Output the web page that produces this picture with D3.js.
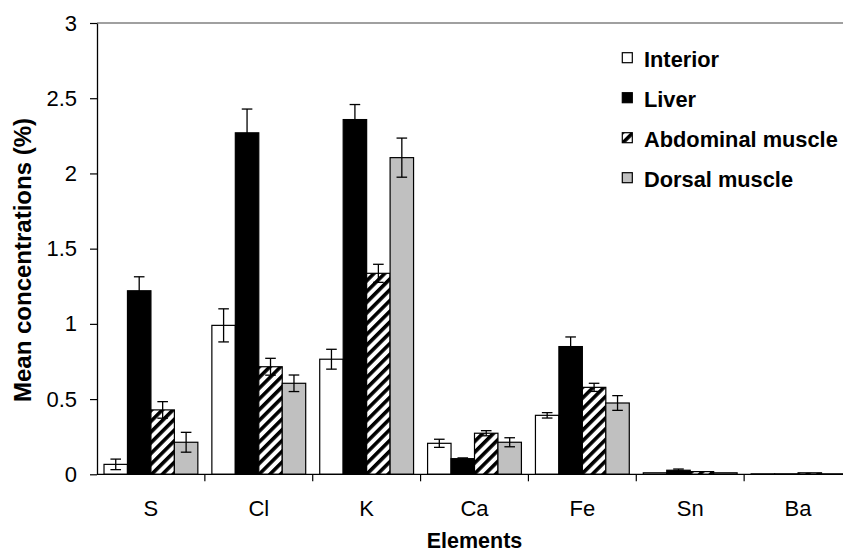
<!DOCTYPE html>
<html>
<head>
<meta charset="utf-8">
<script src="https://cdn.jsdelivr.net/npm/d3@7"></script>
<style>
  html, body { margin: 0; padding: 0; background: #fff; }
  svg { display: block; font-family: "Liberation Sans", Arial, sans-serif; }
</style>
</head>
<body>
<svg id="chart" width="843" height="554"></svg>
<script>
// ---- data ----
const elements = ["S", "Cl", "K", "Ca", "Fe", "Sn", "Ba"];
const seriesNames = ["Interior", "Liver", "Abdominal muscle", "Dorsal muscle"];
const interior     = [0.066, 0.99, 0.765, 0.206, 0.392, 0.010, 0.003];
const interiorErr  = [0.035, 0.11, 0.066, 0.027, 0.018, 0.003, 0.001];
const liver        = [1.22, 2.27, 2.358, 0.104, 0.849, 0.027, 0.003];
const liverErr     = [0.093, 0.158, 0.10, 0.005, 0.064, 0.008, 0.001];
const abdominal    = [0.428, 0.715, 1.336, 0.273, 0.578, 0.018, 0.010];
const abdominalErr = [0.055, 0.056, 0.06, 0.017, 0.027, 0.004, 0.002];
const dorsal       = [0.213, 0.605, 2.105, 0.213, 0.474, 0.010, 0.003];
const dorsalErr    = [0.066, 0.055, 0.13, 0.030, 0.049, 0.003, 0.001];
const yTicks = [0, 0.5, 1, 1.5, 2, 2.5, 3];
const yTickLabels = ["0", "0.5", "1", "1.5", "2", "2.5", "3"];

const values = [interior, liver, abdominal, dorsal];
const errors = [interiorErr, liverErr, abdominalErr, dorsalErr];

const svg = d3.select("#chart");
const defs = svg.append("defs");
const pat = defs.append("pattern")
  .attr("id", "hatch").attr("patternUnits", "userSpaceOnUse")
  .attr("width", 7.6).attr("height", 7.6)
  .attr("patternTransform", "rotate(45)");
pat.append("rect").attr("width", 7.6).attr("height", 7.6).attr("fill", "#fff");
pat.append("rect").attr("width", 3.6).attr("height", 7.6).attr("fill", "#000");

const fills = ["#ffffff", "#000000", "url(#hatch)", "#c0c0c0"];

const pLeft = 97, pRight = 852, pTop = 23, pBottom = 474.3;

const x0 = d3.scaleBand().domain(elements).range([pLeft, pRight]).padding(0);
const bw = x0.bandwidth();
const x1 = d3.scaleBand().domain(d3.range(4)).range([0.065 * bw, 0.935 * bw]).padding(0);
const y = d3.scaleLinear().domain([0, 3]).range([pBottom, pTop]);

// top border
svg.append("line").attr("x1", pLeft).attr("x2", 843).attr("y1", pTop).attr("y2", pTop)
  .attr("stroke", "#808080").attr("stroke-width", 1.3);

// bars
const data = [];
elements.forEach((e, i) => {
  values.forEach((arr, s) => data.push({ e, s, v: arr[i], err: errors[s][i] }));
});

const g = svg.append("g");
g.selectAll("rect.bar").data(data).join("rect")
  .attr("class", "bar")
  .attr("x", d => x0(d.e) + x1(d.s))
  .attr("width", x1.bandwidth())
  .attr("y", d => y(d.v))
  .attr("height", d => y(0) - y(d.v))
  .attr("fill", d => fills[d.s])
  .attr("stroke", "#000").attr("stroke-width", 1.2);

// error bars
const eb = g.selectAll("g.err").data(data.filter(d => d.err > 0.004)).join("g").attr("class", "err")
  .attr("stroke", "#000").attr("stroke-width", 1.3);
const cx = d => x0(d.e) + x1(d.s) + x1.bandwidth() / 2;
eb.append("line").attr("x1", cx).attr("x2", cx)
  .attr("y1", d => y(d.v + d.err)).attr("y2", d => y(d.v - d.err));
eb.append("line").attr("x1", d => cx(d) - 5.3).attr("x2", d => cx(d) + 5.3)
  .attr("y1", d => y(d.v + d.err)).attr("y2", d => y(d.v + d.err));
eb.append("line").attr("x1", d => cx(d) - 5.3).attr("x2", d => cx(d) + 5.3)
  .attr("y1", d => y(d.v - d.err)).attr("y2", d => y(d.v - d.err));

// y axis
const yAxis = d3.axisLeft(y).tickValues(yTicks).tickFormat((d, i) => yTickLabels[i])
  .tickSize(7).tickPadding(13).tickSizeOuter(0);
const ya = svg.append("g").attr("transform", `translate(${pLeft},0)`).call(yAxis);
ya.select(".domain").attr("stroke", "#000").attr("stroke-width", 1.3);
ya.selectAll(".tick line").attr("stroke", "#000").attr("stroke-width", 1.2);
ya.selectAll("text").attr("font-size", 22).attr("fill", "#000")
  .attr("font-family", "'Liberation Sans', Arial, sans-serif");

// x axis: line + category ticks at boundaries
svg.append("line").attr("x1", pLeft).attr("x2", 843).attr("y1", pBottom).attr("y2", pBottom)
  .attr("stroke", "#000").attr("stroke-width", 1.3);
svg.selectAll("line.xt").data(elements.slice(1)).join("line").attr("class", "xt")
  .attr("x1", d => x0(d)).attr("x2", d => x0(d))
  .attr("y1", pBottom).attr("y2", pBottom + 7)
  .attr("stroke", "#000").attr("stroke-width", 1.2);
svg.selectAll("text.xl").data(elements).join("text").attr("class", "xl")
  .attr("x", d => x0(d) + bw / 2).attr("y", 515.5)
  .attr("text-anchor", "middle").attr("font-size", 22).attr("fill", "#000")
  .text(d => d);

// axis titles
svg.append("text").attr("x", (pLeft + pRight) / 2).attr("y", 548)
  .attr("text-anchor", "middle").attr("font-size", 21.5).attr("font-weight", "bold")
  .text("Elements");
svg.append("text").attr("transform", `translate(31,260) rotate(-90)`)
  .attr("text-anchor", "middle").attr("font-size", 24).attr("font-weight", "bold")
  .text("Mean concentrations (%)");

// legend
const lg = svg.append("g");
seriesNames.forEach((name, i) => {
  const yy = 52.7 + i * 40;
  lg.append("rect").attr("x", 622.3).attr("y", yy).attr("width", 10).attr("height", 10)
    .attr("fill", fills[i]).attr("stroke", "#000").attr("stroke-width", 1.2);
  lg.append("text").attr("x", 644).attr("y", yy + 14.5)
    .attr("font-size", 21.8).attr("font-weight", "bold").attr("fill", "#000")
    .text(name);
});
</script>
</body>
</html>
